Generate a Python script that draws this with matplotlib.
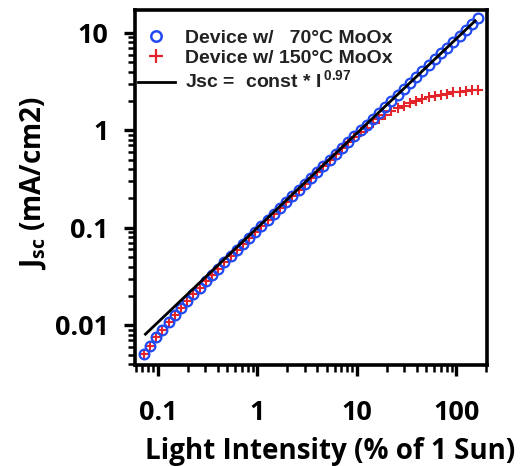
import matplotlib
matplotlib.use("Agg")
import matplotlib.pyplot as plt
from matplotlib.lines import Line2D
from matplotlib.ticker import LogLocator, FixedLocator, FixedFormatter, NullFormatter

plt.rcParams['mathtext.fontset'] = 'custom'
plt.rcParams['mathtext.rm'] = 'Open Sans:bold'
plt.rcParams['mathtext.bf'] = 'Liberation Sans:bold'

# light intensity (% of 1 Sun)
intensity = [0.0723, 0.0834, 0.0962, 0.1111, 0.1282, 0.1480, 0.1709, 0.1972, 0.2276, 0.2627,
             0.3031, 0.3499, 0.4037, 0.4660, 0.5378, 0.6207, 0.7163, 0.8268, 0.9543, 1.1013,
             1.2712, 1.4671, 1.6933, 1.9543, 2.2551, 2.6031, 3.0048, 3.4674, 4.0020, 4.6184,
             5.3310, 6.1534, 7.1022, 8.1965, 9.4582, 10.917, 12.601, 14.542, 16.788, 19.374,
             22.362, 25.806, 29.783, 34.378, 39.675, 45.795, 52.845, 60.98, 70.39, 81.24,
             93.76, 108.2, 124.9, 144.1, 166.3]
# Jsc, device with 70 C MoOx (mA/cm2)
jsc_70 = [0.00504, 0.00618, 0.00750, 0.00902, 0.01076, 0.01278, 0.01509, 0.01773, 0.02077, 0.02426,
          0.02827, 0.03286, 0.03816, 0.04421, 0.05117, 0.05918, 0.06834, 0.07889, 0.09106, 0.1050,
          0.1210, 0.1395, 0.1606, 0.1850, 0.2130, 0.2452, 0.2823, 0.3248, 0.3738, 0.4301,
          0.4947, 0.5692, 0.6551, 0.7536, 0.8668, 0.9972, 1.1475, 1.3194, 1.5181, 1.7458,
          2.0085, 2.3104, 2.6571, 3.0569, 3.5156, 4.0448, 4.652, 5.351, 6.155, 7.078,
          8.142, 9.366, 10.77, 12.39, 14.25]
# Jsc, device with 150 C MoOx (mA/cm2)
jsc_150 = [0.00504, 0.00618, 0.00750, 0.00902, 0.01076, 0.01278, 0.01509, 0.01773, 0.02077, 0.02426,
           0.02827, 0.03286, 0.03816, 0.04421, 0.05117, 0.05918, 0.06834, 0.07889, 0.09106, 0.1050,
           0.1210, 0.1395, 0.1606, 0.1850, 0.2130, 0.2452, 0.2823, 0.3248, 0.3738, 0.4301,
           0.4947, 0.5692, 0.6551, 0.7536, 0.855, 0.96, 1.07, 1.19, 1.32, 1.45,
           1.57, 1.69, 1.80, 1.92, 2.02, 2.11, 2.19, 2.26, 2.33, 2.39,
           2.45, 2.50, 2.55, 2.59, 2.62]
# fit line Jsc = const * I^0.97
fit_x = [0.075, 155.0]
fit_const = 0.0998
fit_exp = 0.97

x_ticks = [0.1, 1, 10, 100]
x_tick_labels = ["0.1", "1", "10", "100"]
y_ticks = [0.01, 0.1, 1, 10]
y_tick_labels = ["0.01", "0.1", "1", "10"]

BLUE = '#2149f2'
RED = '#e3242b'

fig = plt.figure(figsize=(5.21, 4.66), dpi=100)
ax = fig.add_axes([0.259, 0.2167, 0.676, 0.7618])

fit_y = [fit_const * v ** fit_exp for v in fit_x]

ax.plot(intensity, jsc_150, linestyle='none', marker='+', markersize=7.5,
        markeredgewidth=1.5, color=RED, zorder=2)
ax.plot(intensity, jsc_70, linestyle='none', marker='o', markersize=7,
        markerfacecolor='none', markeredgewidth=1.6, markeredgecolor=BLUE, zorder=3)
ax.plot(fit_x, fit_y, color='black', linewidth=2, zorder=4)

ax.set_xscale('log')
ax.set_yscale('log')
ax.set_xlim(0.0588, 205)
ax.set_ylim(0.0039, 17.2)

ax.xaxis.set_major_locator(FixedLocator(x_ticks))
ax.xaxis.set_major_formatter(FixedFormatter(x_tick_labels))
ax.yaxis.set_major_locator(FixedLocator(y_ticks))
ax.yaxis.set_major_formatter(FixedFormatter(y_tick_labels))
ax.xaxis.set_minor_locator(LogLocator(base=10, subs=[2, 3, 4, 5, 6, 7, 8, 9], numticks=20))
ax.yaxis.set_minor_locator(LogLocator(base=10, subs=[2, 3, 4, 5, 6, 7, 8, 9], numticks=20))
ax.xaxis.set_minor_formatter(NullFormatter())
ax.yaxis.set_minor_formatter(NullFormatter())

ax.tick_params(which='major', direction='out', length=8, width=2.4, top=False, right=False)
ax.tick_params(which='minor', direction='out', length=5, width=1.8, top=False, right=False)
ax.tick_params(axis='x', which='major', pad=17)
ax.tick_params(axis='y', which='major', pad=11)
for lab in ax.get_xticklabels() + ax.get_yticklabels():
    lab.set_fontfamily('Open Sans')
    lab.set_fontweight('bold')
    lab.set_fontsize(19.5)

for sp in ax.spines.values():
    sp.set_linewidth(2.6)

ax.set_xlabel("Light Intensity (% of 1 Sun)", fontfamily='Open Sans', fontweight='bold',
              fontsize=20, va='center')
ax.xaxis.set_label_coords(0.554, -0.245)
ax.set_ylabel(r"J$_{\mathrm{sc}}$ (mA/cm2)", fontfamily='Open Sans', fontweight='bold',
              fontsize=20, va='center')
ax.yaxis.set_label_coords(-0.29, 0.513)

handles = [
    Line2D([], [], linestyle='none', marker='o', markersize=7.5, markerfacecolor='none',
           markeredgewidth=1.8, markeredgecolor=BLUE),
    Line2D([], [], linestyle='none', marker='+', markersize=10, markeredgewidth=1.6,
           color=RED),
    Line2D([], [], color='black', linewidth=2),
]
labels = ["Device w/   70\u00b0C MoOx", "Device w/ 150\u00b0C MoOx",
          r"Jsc =  const * I$^{\,\mathbf{0.97}}$"]
leg = ax.legend(handles, labels, loc='upper left', bbox_to_anchor=(0.0, 0.955),
                frameon=False,
                prop={'family': 'Liberation Sans', 'weight': 'bold', 'size': 14},
                handlelength=1.9, handletextpad=0.5, labelspacing=0.15,
                borderaxespad=0.15, borderpad=0.0)
for t in leg.get_texts():
    t.set_color('#222222')

fig.savefig("out.png", dpi=100)
